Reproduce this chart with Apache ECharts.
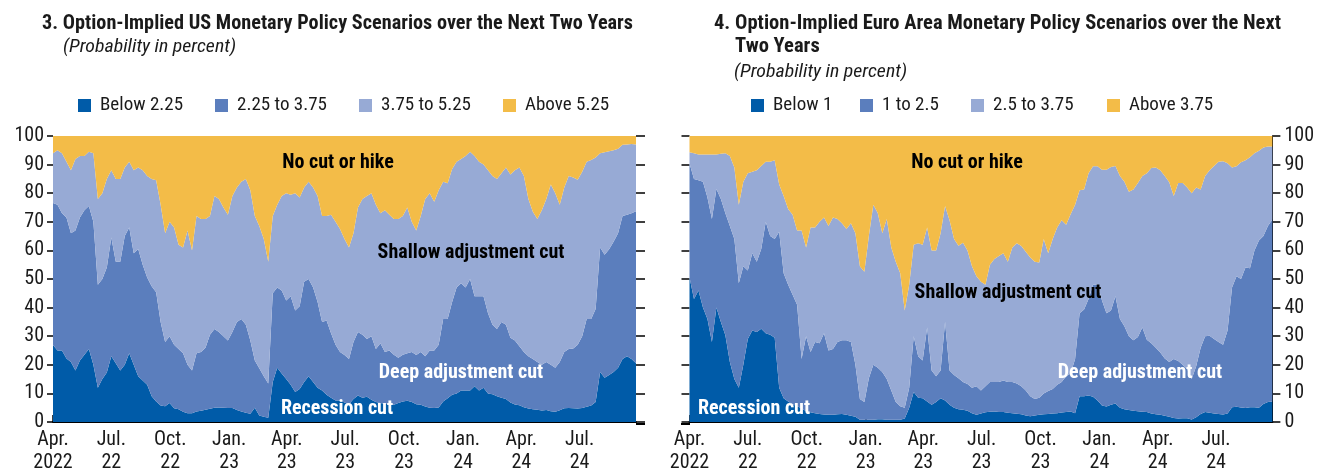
<!DOCTYPE html>
<html><head><meta charset="utf-8">
<script src="https://cdn.jsdelivr.net/npm/echarts@6/dist/echarts.min.js"></script>
<style>html,body{margin:0;padding:0;background:#fff}#c{width:1317px;height:474px}</style>
</head><body><div id="c"></div>
<script>
// ---------- DATA ----------
// Weekly observation dates, Apr. 1, 2022 through late Sep. 2024 (131 weeks)
const weekCount = 131;
const dates = Array.from({length: weekCount}, (_, i) => new Date(2022, 3, 1 + 7 * i).getTime());

// US (policy rate ranges, percent). Cumulative probability (percent) that the rate is below each level.
const usCumBelow225 = [26.9,25,25,22.2,21,18,21.5,23.5,25.5,20, 12,15,17.3,23,20.5,18,20,24,20,16,
  14.5,13,9,7.2,5.8,5.5,6.6,4.8,4.5,3.6, 3.1,3.1,3.7,3.9,4.3,4.6,5,5.1,5,4.9,
  4.9,4.2,3.7,3.2,2.9,5,2.3,1.8,1.5,14, 19,17,15,13,10.5,11.5,14,16,14,12,
  11,9.5,8.5,7.5,7.5,6.8,6.2,8,9.3,8.5, 8.8,7.8,7,6.6,6.4,6.2,6,6.6,7.2,7.4,
  7,6.2,6,5.4,5,4.9,5.1,7.2,8.3,9.5, 10,11,11,11,12.5,11,12,10,9.7,9,
  8.5,8,6.8,6.1,5.9,5.2,4.7,4.5,4.3,4, 4.2,3.8,3.6,4.1,4.8,4.9,4.8,4.7,4.9,5.3,
  5.8,7,17.5,15.5,16.4,17.5,19,22,23,22, 20.5];
const usCumBelow375 = [76.6,76,73,71.5,66,67,71.5,74,75.5,70, 48,50,54,64.5,56,56,65,68,59,60.5,
  55,50.5,47.5,45.4,35,28,30,27,25.5,24, 20,18,24,24.5,26,30.5,32.5,31.5,30,28.5,
  31.5,35,36,34,28.5,21.5,18.8,16,13.5,45, 47,46,42.5,44,39,40.5,49,50,47,42,
  35,35.5,31,27,24.5,23.4,22,28,31.5,30.5, 29,30,25.5,27.5,24.5,25,23.5,22.5,23.5,24,
  24.5,23.4,24.5,23,25,25,27,36,36,42, 47,48.5,47,50,44,44,44,38,34,32.5,
  35,34,29.5,28.5,26.5,24.5,23,22,21,20, 21,20,19,21,24.5,25.5,25.7,27,30,36,
  36,39.5,61,58.5,60.4,63,66,72,72.5,73, 73.7];
const usCumBelow525 = [94,95,94,91,88,92,93,93,94.5,94, 78,80,85,88,85,85,89,91,88,89,
  88,86,85,84.5,76,66,70,68,62,61, 67,60,72,71,71,72,79,78,75,72.5,
  79,82,84,85,81,72,68.5,64,56,72, 76,79,80,79.5,80,78.5,82,84,82,79,
  72,72,72.5,70,67.5,64,61,66,75,78, 79,80,76,73,74,72.5,71,71,72,75,
  70,67,72,78,80,77,81,84,83.5,88.5, 91,92,93,94.5,93,91,90,88,86,85,
  87,89,86.5,88,89,86,78,73.5,71,74, 78,83,80,76,82,86,85.5,84.7,87.5,91,
  91.6,92.5,94,94.3,94.7,95,95.5,96.9,97,97.2, 97];

// Euro area. Cumulative probability (percent) that the rate is below each level.
const euCumBelow1 = [50.6,43,46,40,36,28,40,35,30.3,21, 15,12,20,29,32,31.5,32.6,31,30.5,29.5,
  12,8.3,7.2,6.2,5.5,4.8,3.8,3.4,3.1,2.8, 2.6,2.5,2.5,2.7,2.8,2.5,2.2,1.8,0.8,0.8,
  0.8,0.8,1,1,0.8,0.8,0.8,0.8,1.2,5, 10.5,8.5,8.3,7.2,6,7,8.3,7.5,6,5,
  4.5,4.3,3.9,3.1,2.5,3,3.4,3.6,3.7,3.5, 3.5,3.2,3.1,2.9,2.7,2.3,2,2.3,2.5,2.7,
  2.8,3,3.1,3.3,3.5,3.7,3.1,9,9,9.3, 8.8,7.5,5.8,5.4,6,6.5,5,4.5,4.2,3.9,
  3.8,3.6,3.5,3,2.7,2.5,2.2,1.8,1.4,1.2, 1.3,1.3,0.9,1.7,2.8,3.5,3.2,3,2.8,2.6,
  3,5.2,5.3,5.1,4.9,5.2,5.2,5,6.3,7, 7.2];
const euCumBelow25 = [90.5,85,84.5,84,78.5,71,81.5,78,73,68.5, 64,48.5,54.5,53,59,56,60.5,70,65,64,
  66.5,52,48,44.5,41,22,30,24.5,28,27.5, 31,25,25.5,28,28.6,28.6,28,20,8,7,
  15.3,20,19,17.5,15,11,7,5.5,5,12, 30,23,21.5,33,18,16,18,35,18,16.4,
  15.3,14,13.3,12,12.5,11,12.5,14,14,14, 14.5,14,14,13.5,12.5,11,9,8,8.5,10,
  10.8,11.5,13,14,16,17,22,38,39.3,43, 48,48,42.5,38,39,44,36,33.5,30,28.6,
  29.7,33,28.8,27.5,26,24.3,22.2,21,22,21.3, 20,18.5,15,19.5,26,30,30.2,29,28,27,
  32,47,51,50,54,53.8,60,63.5,65,68.5, 70.8];
const euCumBelow375 = [94.3,94,93.5,93.5,93.5,93.5,93.5,93.8,94,93, 89,76,84,87,87.5,88,89.5,91,91,91.5,
  83,79,74.5,72.5,67,67,61,68,68,70, 71.5,68.5,71.5,71,69.5,67.5,69.5,66,54.5,52.5,
  65,76,73,66,71,61,56,52,39,48, 62,62.5,62,68,60,60,66,75.5,70.5,64,
  61.6,62.7,60,54.5,51,49,48,55,57,58, 59,56,61,62.5,61.5,59.5,57.5,56,55.8,64,
  59,64,68,70.5,69,72.6,76,81,81.3,87, 89.4,89.4,88.2,88.2,89.2,89.5,86,84,80.5,81.3,
  83.6,86,87,88.8,89,88,86,83.8,79,83.6, 83.6,82,80,82,81.3,86,88,89.5,91,91.2,
  90.5,89,89.4,90.8,91.5,92.6,94,94.8,96,96.3, 96.3];

const usNames = ['Below 2.25', '2.25 to 3.75', '3.75 to 5.25', 'Above 5.25'];
const euNames = ['Below 1', '1 to 2.5', '2.5 to 3.75', 'Above 3.75'];
const monthAbbr = ['Jan.','Feb.','Mar.','Apr.','May','Jun.','Jul.','Aug.','Sep.','Oct.','Nov.','Dec.'];

// ---------- STYLE ----------
const FONT = "'Roboto Condensed','DejaVu Sans Condensed',sans-serif";
const COLORS = ['#005BA8', '#5B7EBD', '#97AAD5', '#F3BC48'];
const TXT = '#1a1a1a';

function bands(c1, c2, c3) {
  return [
    c1.map((v, i) => [dates[i], v]),
    c2.map((v, i) => [dates[i], +(v - c1[i]).toFixed(2)]),
    c3.map((v, i) => [dates[i], +(v - c2[i]).toFixed(2)]),
    c3.map((v, i) => [dates[i], +(100 - v).toFixed(2)])
  ];
}
const usBands = bands(usCumBelow225, usCumBelow375, usCumBelow525);
const euBands = bands(euCumBelow1, euCumBelow25, euCumBelow375);

function mkSeries(names, data, gi, yi, stack) {
  return names.map((n, k) => ({
    name: n, type: 'line', stack: stack, xAxisIndex: gi, yAxisIndex: yi,
    data: data[k], symbol: 'none', showSymbol: false, silent: true, z: 2,
    lineStyle: {width: 0}, itemStyle: {color: COLORS[k]},
    areaStyle: {color: COLORS[k], opacity: 1}, emphasis: {disabled: true}
  }));
}

function xAxisFor(gi) {
  return {
    type: 'time', gridIndex: gi, min: dates[0], max: dates[dates.length - 1],
    minInterval: 80 * 86400000, maxInterval: 100 * 86400000,
    axisLine: {lineStyle: {color: '#000', width: 2}},
    axisTick: {inside: true, length: 7, lineStyle: {color: '#000', width: 1.5}},
    splitLine: {show: false},
    axisLabel: {
      fontFamily: FONT, fontSize: 20, lineHeight: 23, color: TXT, margin: 6, hideOverlap: false,
      formatter: function (val) {
        const d = new Date(val);
        const y = d.getFullYear();
        const first = d.getTime() <= dates[0];
        return monthAbbr[d.getMonth()] + '\n' + (first ? String(y) : String(y).slice(2));
      }
    }
  };
}
function yAxisFor(gi, pos, showLabel, tickLen, margin, showLine) {
  return {
    type: 'value', gridIndex: gi, position: pos, min: 0, max: 100, interval: 10,
    axisLine: {show: !!showLine, lineStyle: {color: '#000', width: 1}},
    axisTick: {show: true, length: tickLen, lineStyle: {color: '#000', width: 1.5}},
    splitLine: {show: false},
    axisLabel: {show: showLabel, fontFamily: FONT, fontSize: 20, color: TXT, margin: margin}
  };
}

const measureCtx = document.createElement('canvas').getContext('2d');
function fitScale(text, font, target) {
  measureCtx.font = font;
  const w = measureCtx.measureText(text).width;
  return w > 0 ? target / w : 1;
}
function txt(text, x, y, font, fill, align, sx) {
  return {type: 'text', silent: true, z: 100, x: x, y: y, scaleX: sx || 1,
    style: {text: text, x: 0, y: 0, font: font, fill: fill,
      textAlign: align || 'left', textVerticalAlign: 'middle'}};
}
const TITLE_FONT = 'bold 20px ' + FONT;
const SUB_FONT = 'italic 19px ' + FONT;
const ANN_FONT = 'bold 20px ' + FONT;
const usTitle = '3. Option-Implied US Monetary Policy Scenarios over the Next Two Years';
const euTitle1 = '4. Option-Implied Euro Area Monetary Policy Scenarios over the Next';
const euTitle2 = 'Two Years';
const subTitle = '(Probability in percent)';
const usTitleScale = fitScale(usTitle, TITLE_FONT, 591);
const euTitleScale = fitScale(euTitle1, TITLE_FONT, 567);
const subScale = fitScale(subTitle, SUB_FONT, 173);

function legendItem(name, left) {
  return {data: [name], left: left, top: 96, padding: 0, icon: 'rect', itemWidth: 13, itemHeight: 13,
    itemGap: 0, selectedMode: false,
    textStyle: {fontFamily: FONT, fontSize: 19, color: TXT, padding: [0, 0, 0, 4]}};
}
const usLegendLeft = [78, 215, 359, 503];
const euLegendLeft = [751, 860, 971, 1107];

const option = {
  animation: false,
  backgroundColor: '#fff',
  grid: [
    {left: 53, top: 136, width: 583, height: 288},
    {left: 689.5, top: 136, width: 583.5, height: 288}
  ],
  legend: [].concat(usNames.map((n, k) => legendItem(n, usLegendLeft[k])),
                    euNames.map((n, k) => legendItem(n, euLegendLeft[k]))),
  xAxis: [xAxisFor(0), xAxisFor(1)],
  yAxis: [
    yAxisFor(0, 'left', true, 6, 9, false),
    yAxisFor(0, 'right', false, 9, 9, false),
    yAxisFor(1, 'left', false, 8, 9, false),
    yAxisFor(1, 'right', true, 8, 12, true)
  ],
  series: [].concat(mkSeries(usNames, usBands, 0, 0, 'us'), mkSeries(euNames, euBands, 1, 2, 'eu')),
  graphic: [
    txt(usTitle, 42, 24, TITLE_FONT, TXT, 'left', usTitleScale),
    txt(subTitle, 63, 47, SUB_FONT, TXT, 'left', subScale),
    txt(euTitle1, 714, 24, TITLE_FONT, TXT, 'left', euTitleScale),
    txt(euTitle2, 735, 47, TITLE_FONT, TXT, 'left', euTitleScale),
    txt(subTitle, 734, 72, SUB_FONT, TXT, 'left', subScale),
    txt('No cut or hike', 338, 163, ANN_FONT, '#000', 'center'),
    txt('Shallow adjustment cut', 471, 253, ANN_FONT, '#000', 'center'),
    txt('Deep adjustment cut', 461, 373, ANN_FONT, '#fff', 'center'),
    txt('Recession cut', 337, 409, ANN_FONT, '#fff', 'center'),
    txt('No cut or hike', 967, 163, ANN_FONT, '#000', 'center'),
    txt('Shallow adjustment cut', 1008, 293, ANN_FONT, '#000', 'center'),
    txt('Deep adjustment cut', 1140, 373, ANN_FONT, '#fff', 'center'),
    txt('Recession cut', 754, 409, ANN_FONT, '#fff', 'center'),
    {type: 'line', silent: true, z: 100, shape: {x1: 636, y1: 424, x2: 645, y2: 424}, style: {stroke: '#000', lineWidth: 2}},
    {type: 'line', silent: true, z: 100, shape: {x1: 681, y1: 424, x2: 690, y2: 424}, style: {stroke: '#000', lineWidth: 2}}
  ]
};

const chart = echarts.init(document.getElementById('c'), null, {renderer: 'canvas'});
chart.setOption(option);
</script>
</body></html>
